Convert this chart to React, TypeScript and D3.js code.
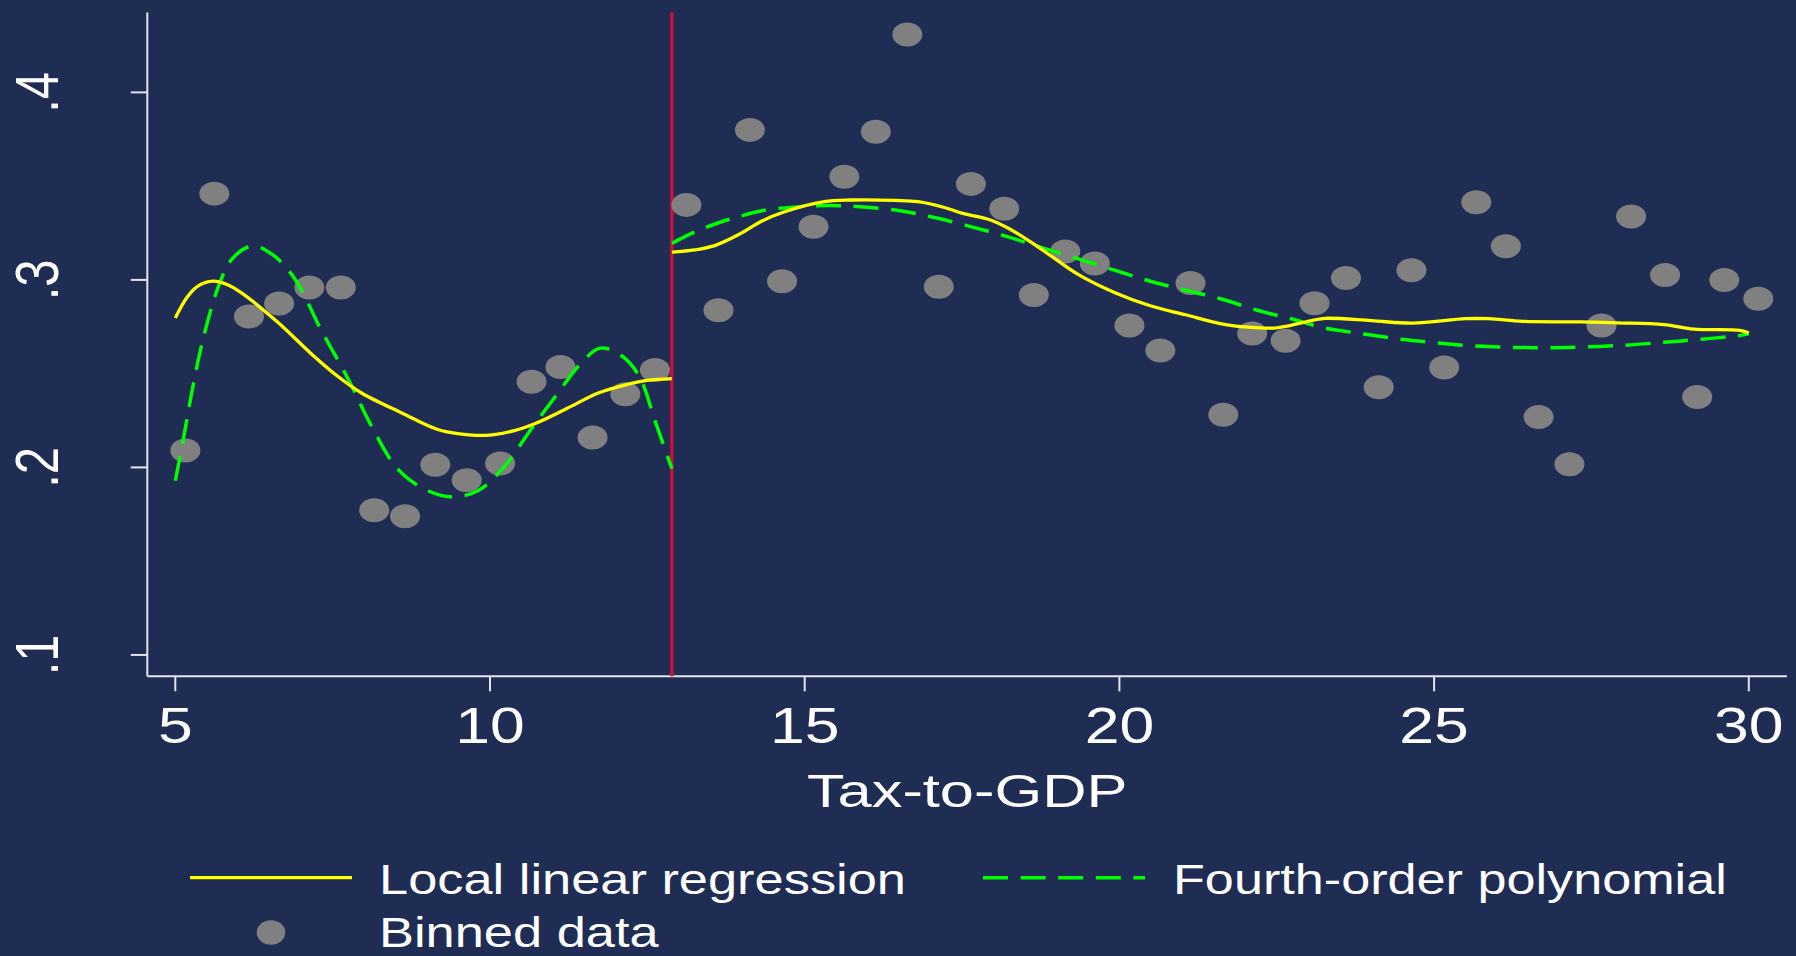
import { useEffect, useRef } from "react";
import * as d3 from "d3";

// binned data (tax-to-GDP, outcome)
const binX = [
  5.16, 5.62, 6.17, 6.65, 7.13, 7.63, 8.16, 8.65, 9.13, 9.63, 10.16, 10.66, 11.12, 11.63, 12.15, 12.62,
  13.12, 13.63, 14.13, 14.64, 15.14, 15.63, 16.13, 16.63, 17.13, 17.64, 18.17, 18.64, 19.14, 19.61,
  20.16, 20.65, 21.13, 21.65, 22.11, 22.64, 23.1, 23.6, 24.12, 24.64, 25.16, 25.67, 26.14, 26.66,
  27.15, 27.66, 28.13, 28.67, 29.18, 29.61, 30.15,
];
const binY = [
  0.209, 0.346, 0.2805, 0.2874, 0.296, 0.296, 0.1771, 0.174, 0.2014, 0.1931, 0.2021, 0.2457, 0.2536, 0.216, 0.239, 0.2519,
  0.34, 0.2838, 0.38, 0.2993, 0.3283, 0.355, 0.379, 0.4309, 0.2964, 0.3512, 0.338, 0.2919, 0.3152, 0.3088,
  0.2757, 0.2624, 0.2983, 0.2281, 0.2714, 0.2676, 0.2876, 0.301, 0.2428, 0.3052, 0.2533, 0.3414, 0.3179, 0.2269,
  0.2017, 0.2757, 0.3338, 0.3026, 0.2376, 0.3, 0.29,
];

// local linear regression, left and right of the cutoff
const llrLeftX = [5, 5.19, 5.37, 5.6, 5.83, 6.04, 6.61, 7.18, 7.6, 7.96, 8.6, 9.17, 9.52, 9.95, 10.37, 10.73, 11.22, 11.72, 12.15, 12.5, 12.89];
const llrLeftY = [0.2797, 0.2909, 0.2969, 0.2993, 0.2974, 0.2933, 0.2779, 0.26, 0.2481, 0.2397, 0.229, 0.2202, 0.2179, 0.2171, 0.2195, 0.2236, 0.2314, 0.2397, 0.244, 0.2464, 0.2474];
const llrRightX = [12.89, 13.25, 13.57, 13.96, 14.32, 14.67, 15.31, 15.73, 16.44, 16.8, 17.22, 17.51, 17.93, 18.22, 18.57, 18.93, 19.35, 19.92, 20.49, 21.05, 21.62, 22.05, 22.47, 22.69, 23.09, 23.27, 24, 24.66, 25.5, 25.87, 26.41, 27.32, 27.92, 28.65, 29.13, 29.86, 30];
const llrRightY = [0.3148, 0.316, 0.3183, 0.3243, 0.3314, 0.3362, 0.3417, 0.3426, 0.3424, 0.3417, 0.3386, 0.3355, 0.3322, 0.3278, 0.3207, 0.3124, 0.3028, 0.2933, 0.2862, 0.2814, 0.2766, 0.2748, 0.2743, 0.2755, 0.2786, 0.2795, 0.2783, 0.2769, 0.2793, 0.2793, 0.2779, 0.2776, 0.2771, 0.2762, 0.2738, 0.2731, 0.2717];

// fourth-order polynomial fit, left and right of the cutoff
const polyLeftX = [5, 5.12, 5.26, 5.44, 5.69, 5.9, 6.22, 6.54, 6.9, 7.32, 7.75, 8.1, 8.53, 8.95, 9.38, 9.8, 10.23, 10.66, 11.08, 11.44, 11.75, 12.07, 12.36, 12.64, 12.89];
const polyLeftY = [0.1929, 0.2136, 0.2397, 0.2683, 0.2969, 0.3111, 0.3181, 0.3136, 0.3005, 0.2731, 0.2469, 0.2231, 0.1993, 0.1886, 0.1843, 0.1874, 0.2005, 0.2207, 0.2397, 0.2553, 0.2636, 0.26, 0.2493, 0.2231, 0.1993];
const polyRightX = [12.89, 13.25, 13.61, 13.96, 14.32, 14.81, 15.38, 15.88, 16.51, 17.08, 17.65, 18.22, 18.78, 19.35, 19.92, 20.49, 21.05, 21.62, 22.19, 22.76, 23.27, 23.88, 24.48, 25.05, 25.66, 26.26, 26.84, 27.44, 28.04, 28.65, 29.22, 29.83, 30];
const polyRightY = [0.3195, 0.3255, 0.3302, 0.3338, 0.3369, 0.3388, 0.3397, 0.339, 0.3369, 0.3331, 0.3283, 0.3231, 0.3171, 0.3112, 0.3052, 0.2993, 0.2945, 0.2898, 0.2838, 0.279, 0.2743, 0.2712, 0.2683, 0.2664, 0.2647, 0.264, 0.2638, 0.2643, 0.2652, 0.2667, 0.2683, 0.2702, 0.2712];

const cutoff = 12.89;
const xTicks = [5, 10, 15, 20, 25, 30];
const yTicks = [0.1, 0.2, 0.3, 0.4];
const yTickLabels = [".1", ".2", ".3", ".4"];
const legendLabels = ["Local linear regression", "Fourth-order polynomial", "Binned data"];

const App = () => {
  const svgRef = useRef(null);
  const width = 1796;
  const height = 956;
  const bg = "#1f2d55";
  const font = "'Liberation Sans', Arial, Helvetica, sans-serif";

  useEffect(() => {
    document.body.style.margin = "0";
    document.body.style.overflow = "hidden";
    const svg = d3.select(svgRef.current);
    svg.selectAll("*").remove();

    svg.append("rect").attr("width", width).attr("height", height).attr("fill", bg);

    const x = d3.scaleLinear().domain([4.555, 30.607]).range([147.3, 1787]);
    const y = d3.scaleLinear().domain([0.0886, 0.4426]).range([676.3, 12.5]);

    // axes (stata style: L-shaped frame)
    const axisColor = "#e6e6ea";
    svg.append("line").attr("x1", x.range()[0]).attr("x2", x.range()[0])
      .attr("y1", y.range()[1]).attr("y2", y.range()[0])
      .attr("stroke", axisColor).attr("stroke-width", 2);
    svg.append("line").attr("x1", x.range()[0]).attr("x2", x.range()[1])
      .attr("y1", y.range()[0]).attr("y2", y.range()[0])
      .attr("stroke", axisColor).attr("stroke-width", 2);

    // text is stretched horizontally, like the exported graph
    const stretchText = (px, py, str, size, sx, anchor, rotate = 0) => {
      const g = svg.append("g")
        .attr("transform", `translate(${px},${py}) scale(${sx},1)${rotate ? ` rotate(${rotate})` : ""}`);
      g.append("text")
        .attr("text-anchor", anchor)
        .attr("font-family", font)
        .attr("font-size", size)
        .attr("fill", "#ffffff")
        .text(str);
    };

    yTicks.forEach((t, i) => {
      svg.append("line").attr("x1", 130.8).attr("x2", x.range()[0])
        .attr("y1", y(t)).attr("y2", y(t))
        .attr("stroke", axisColor).attr("stroke-width", 2);
      stretchText(57.5, y(t), yTickLabels[i], 49, 1.25, "middle", -90);
    });

    xTicks.forEach((t) => {
      svg.append("line").attr("x1", x(t)).attr("x2", x(t))
        .attr("y1", y.range()[0]).attr("y2", y.range()[0] + 15)
        .attr("stroke", axisColor).attr("stroke-width", 2);
      stretchText(x(t), 743.3, String(t), 50, 1.25, "middle");
    });

    stretchText((x.range()[0] + x.range()[1]) / 2, 807.3, "Tax-to-GDP", 46.5, 1.32, "middle");

    // cutoff
    svg.append("line").attr("x1", x(cutoff)).attr("x2", x(cutoff))
      .attr("y1", y.range()[1]).attr("y2", y.range()[0])
      .attr("stroke", "#c8103a").attr("stroke-width", 3.5);

    // binned data
    svg.selectAll(".bin")
      .data(binX.map((v, i) => [v, binY[i]]))
      .enter()
      .append("ellipse")
      .attr("class", "bin")
      .attr("cx", (d) => x(d[0]))
      .attr("cy", (d) => y(d[1]))
      .attr("rx", 15)
      .attr("ry", 12)
      .attr("fill", "#808080");

    const line = d3.line().x((d) => x(d[0])).y((d) => y(d[1])).curve(d3.curveCatmullRom);
    const zip = (xs, ys) => xs.map((v, i) => [v, ys[i]]);

    [zip(polyLeftX, polyLeftY), zip(polyRightX, polyRightY)].forEach((pts) => {
      svg.append("path").attr("d", line(pts)).attr("fill", "none")
        .attr("stroke", "#00ff00").attr("stroke-width", 3.5)
        .attr("stroke-dasharray", "25 12.6");
    });
    [zip(llrLeftX, llrLeftY), zip(llrRightX, llrRightY)].forEach((pts) => {
      svg.append("path").attr("d", line(pts)).attr("fill", "none")
        .attr("stroke", "#ffff00").attr("stroke-width", 3.3);
    });

    // legend
    svg.append("line").attr("x1", 190).attr("x2", 352).attr("y1", 877.7).attr("y2", 877.7)
      .attr("stroke", "#ffff00").attr("stroke-width", 3.3);
    stretchText(379, 894.3, legendLabels[0], 43.3, 1.21, "start");
    svg.append("line").attr("x1", 983).attr("x2", 1145).attr("y1", 877.7).attr("y2", 877.7)
      .attr("stroke", "#00ff00").attr("stroke-width", 3.5).attr("stroke-dasharray", "25 12.6");
    stretchText(1173, 894.3, legendLabels[1], 43.3, 1.205, "start");
    svg.append("ellipse").attr("cx", 271).attr("cy", 932.5).attr("rx", 14.3).attr("ry", 12.2)
      .attr("fill", "#808080");
    stretchText(379, 947, legendLabels[2], 43.3, 1.21, "start");
  }, []);

  return (
    <svg
      ref={svgRef}
      width={width}
      height={height}
      style={{ position: "absolute", left: 0, top: 0, display: "block" }}
    />
  );
};

export default App;
